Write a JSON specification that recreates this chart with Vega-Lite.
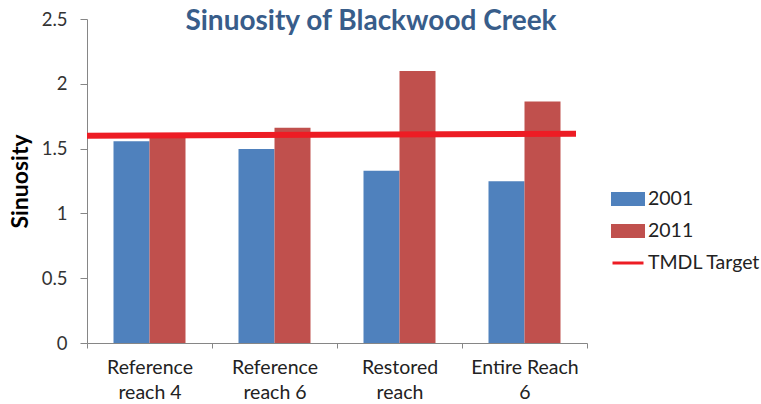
{
  "$schema": "https://vega.github.io/schema/vega-lite/v6.json",
  "width": 500,
  "height": 324,
  "autosize": {"type": "none"},
  "padding": {"left": 87, "top": 19, "right": 174, "bottom": 61},
  "background": "white",
  "title": {
    "text": "Sinuosity of Blackwood Creek",
    "font": "Lato",
    "fontSize": 28,
    "fontWeight": "bold",
    "color": "#385D8A",
    "anchor": "middle",
    "frame": "group",
    "offset": 0,
    "baseline": "alphabetic",
    "dx": 34,
    "dy": 48
  },
  "config": {
    "view": {"stroke": null},
    "axis": {"grid": false}
  },
  "layer": [
    {
      "data": {
        "values": [
          {"reach": "Reference|reach 4", "year": "2001", "sinuosity": 1.556},
          {"reach": "Reference|reach 4", "year": "2011", "sinuosity": 1.62},
          {"reach": "Reference|reach 6", "year": "2001", "sinuosity": 1.497},
          {"reach": "Reference|reach 6", "year": "2011", "sinuosity": 1.661},
          {"reach": "Restored|reach", "year": "2001", "sinuosity": 1.33},
          {"reach": "Restored|reach", "year": "2011", "sinuosity": 2.099},
          {"reach": "Entire Reach|6", "year": "2001", "sinuosity": 1.248},
          {"reach": "Entire Reach|6", "year": "2011", "sinuosity": 1.864}
        ]
      },
      "mark": {"type": "bar"},
      "encoding": {
        "x": {
          "field": "reach",
          "type": "nominal",
          "sort": null,
          "scale": {"paddingInner": 0, "paddingOuter": 0},
          "axis": {
            "title": null,
            "labelAngle": 0,
            "labelExpr": "split(datum.label, '|')",
            "labelFont": "Lato",
            "labelFontSize": 19.5,
            "labelLineHeight": 25,
            "labelColor": "#222222",
            "labelPadding": 10,
            "labelBaseline": "top",
            "tickBand": "extent",
            "tickSize": 5,
            "tickColor": "#868686",
            "domainColor": "#868686"
          }
        },
        "xOffset": {
          "field": "year",
          "type": "nominal",
          "scale": {"paddingInner": 0, "paddingOuter": 0.736}
        },
        "y": {
          "field": "sinuosity",
          "type": "quantitative",
          "scale": {"domain": [0, 2.5], "nice": false},
          "axis": {
            "title": "Sinuosity",
            "titleFont": "Lato",
            "titleFontSize": 23,
            "titleFontWeight": "bold",
            "titleColor": "#000000",
            "titlePadding": 9,
            "values": [0, 0.5, 1, 1.5, 2, 2.5],
            "format": "~g",
            "labelFont": "Lato",
            "labelFontSize": 18.5,
            "labelColor": "#333333",
            "labelPadding": 13,
            "tickSize": 7,
            "tickColor": "#868686",
            "domainColor": "#868686"
          }
        },
        "color": {
          "field": "year",
          "type": "nominal",
          "scale": {
            "domain": ["2001", "2011", "TMDL Target"],
            "range": ["#4F81BD", "#C0504D", "#ED1C24"]
          },
          "legend": {
            "orient": "none",
            "legendX": 524,
            "legendY": 163,
            "title": null,
            "padding": 0,
            "rowPadding": 3,
            "labelFont": "Lato",
            "labelFontSize": 19.5,
            "labelColor": "#222222",
            "labelOffset": 3,
            "symbolSize": 961,
            "symbolType": "M-1,-0.35H1V0.35H-1Z",
            "encode": {
              "symbols": {
                "update": {
                  "shape": {"signal": "datum.label === 'TMDL Target' ? 'M-1,0H1' : 'M-1,-0.35H1V0.35H-1Z'"},
                  "fill": {"signal": "datum.label === 'TMDL Target' ? 'transparent' : (datum.label === '2001' ? '#4F81BD' : '#C0504D')"},
                  "stroke": {"signal": "datum.label === 'TMDL Target' ? '#ED1C24' : 'transparent'"},
                  "strokeWidth": {"value": 3},
                  "opacity": {"value": 1}
                }
              }
            }
          }
        }
      }
    },
    {
      "data": {
        "values": [
          {"pos": 0, "target": 1.6, "series": "TMDL Target"},
          {"pos": 0.978, "target": 1.615, "series": "TMDL Target"}
        ]
      },
      "mark": {"type": "line", "strokeWidth": 6},
      "encoding": {
        "x": {
          "field": "pos",
          "type": "quantitative",
          "scale": {"domain": [0, 1], "nice": false},
          "axis": null
        },
        "y": {"field": "target", "type": "quantitative"},
        "color": {"field": "series", "type": "nominal"}
      }
    }
  ],
  "resolve": {"scale": {"x": "independent"}}
}
